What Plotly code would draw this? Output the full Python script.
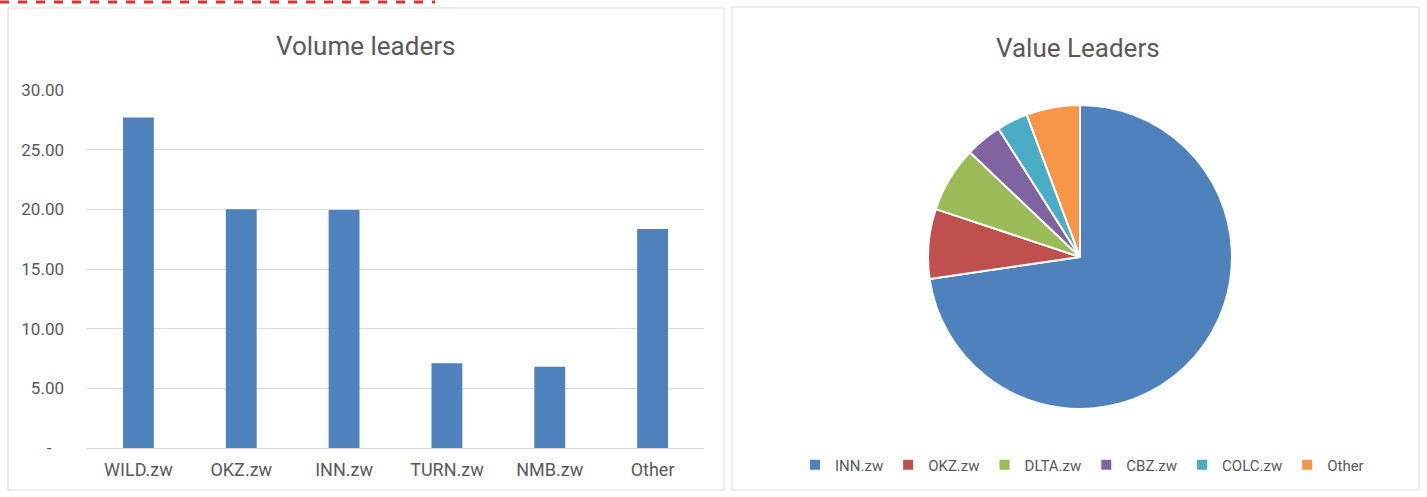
import plotly.graph_objects as go

# ---- data ----
bar_categories = ["WILD.zw", "OKZ.zw", "INN.zw", "TURN.zw", "NMB.zw", "Other"]
bar_values = [27.7, 20.0, 19.95, 7.1, 6.8, 18.35]
y_tick_vals = [0, 5, 10, 15, 20, 25, 30]
y_tick_text = ["-\u00a0\u00a0\u00a0", "5.00", "10.00", "15.00", "20.00", "25.00", "30.00"]

pie_labels = ["INN.zw", "OKZ.zw", "DLTA.zw", "CBZ.zw", "COLC.zw", "Other"]
pie_values = [72.7, 7.4, 7.0, 3.9, 3.3, 5.7]
pie_colors = ["#4F81BD", "#C0504D", "#9BBB59", "#8064A2", "#4BACC6", "#F79646"]

W, H = 1427, 497
FONT = "Roboto, Open Sans, sans-serif"
GREY = "#595959"

def px(x):
    return x / W

def py(y):
    return (H - y) / H

fig = go.Figure()

fig.add_trace(go.Bar(
    x=bar_categories, y=bar_values,
    marker=dict(color="#4F81BD", line=dict(width=0)),
    showlegend=False, xaxis="x", yaxis="y",
))

fig.add_trace(go.Pie(
    labels=pie_labels, values=pie_values,
    marker=dict(colors=pie_colors, line=dict(color="white", width=2)),
    sort=False, direction="clockwise", rotation=0,
    textinfo="none", hoverinfo="label+value",
    domain=dict(x=[px(928), px(1232)], y=[py(409), py(105)]),
    showlegend=True,
))

# panel frames
shapes = [
    dict(type="rect", xref="paper", yref="paper",
         x0=px(8), x1=px(724), y0=py(490), y1=py(8),
         line=dict(color="#d9d9d9", width=1), fillcolor="white", layer="below"),
    dict(type="rect", xref="paper", yref="paper",
         x0=px(732), x1=px(1419), y0=py(490), y1=py(7),
         line=dict(color="#d9d9d9", width=1), fillcolor="white", layer="below"),
    dict(type="line", xref="paper", yref="paper",
         x0=px(0), x1=px(435), y0=py(2), y1=py(2),
         line=dict(color="#e03030", width=3, dash="dash")),
]

annotations = [
    dict(text="Volume leaders", xref="paper", yref="paper",
         x=px(366), y=py(46), xanchor="center", yanchor="middle",
         showarrow=False, font=dict(family=FONT, size=26, color=GREY)),
    dict(text="Value Leaders", xref="paper", yref="paper",
         x=px(1078), y=py(48), xanchor="center", yanchor="middle",
         showarrow=False, font=dict(family=FONT, size=26, color=GREY)),
]

fig.update_layout(
    template="none",
    width=W, height=H, autosize=False,
    margin=dict(l=0, r=0, t=0, b=0, pad=0, autoexpand=False),
    paper_bgcolor="white", plot_bgcolor="rgba(0,0,0,0)",
    font=dict(family=FONT, color=GREY, size=16),
    bargap=0.7,
    xaxis=dict(domain=[px(87), px(704)], anchor="y", automargin=False,
               showgrid=False, showline=False, zeroline=False,
               ticks="", ticklabelstandoff=9,
               tickfont=dict(family=FONT, size=18, color=GREY),
               fixedrange=True),
    yaxis=dict(domain=[py(448), py(90)], anchor="x", automargin=False,
               range=[0, 30], tickvals=y_tick_vals, ticktext=y_tick_text,
               showgrid=True, gridcolor="#d9d9d9", gridwidth=1,
               zeroline=True, zerolinecolor="#d9d9d9", zerolinewidth=1,
               showline=False, ticks="", ticklabelstandoff=22,
               tickfont=dict(family=FONT, size=17, color=GREY),
               fixedrange=True),
    legend=dict(orientation="h", x=px(1082), y=py(465),
                xanchor="center", yanchor="middle",
                font=dict(family=FONT, size=15, color=GREY),
                itemwidth=30, tracegroupgap=0,
                bgcolor="rgba(0,0,0,0)"),
    shapes=shapes,
    annotations=annotations,
)

fig.write_html("out.html")
